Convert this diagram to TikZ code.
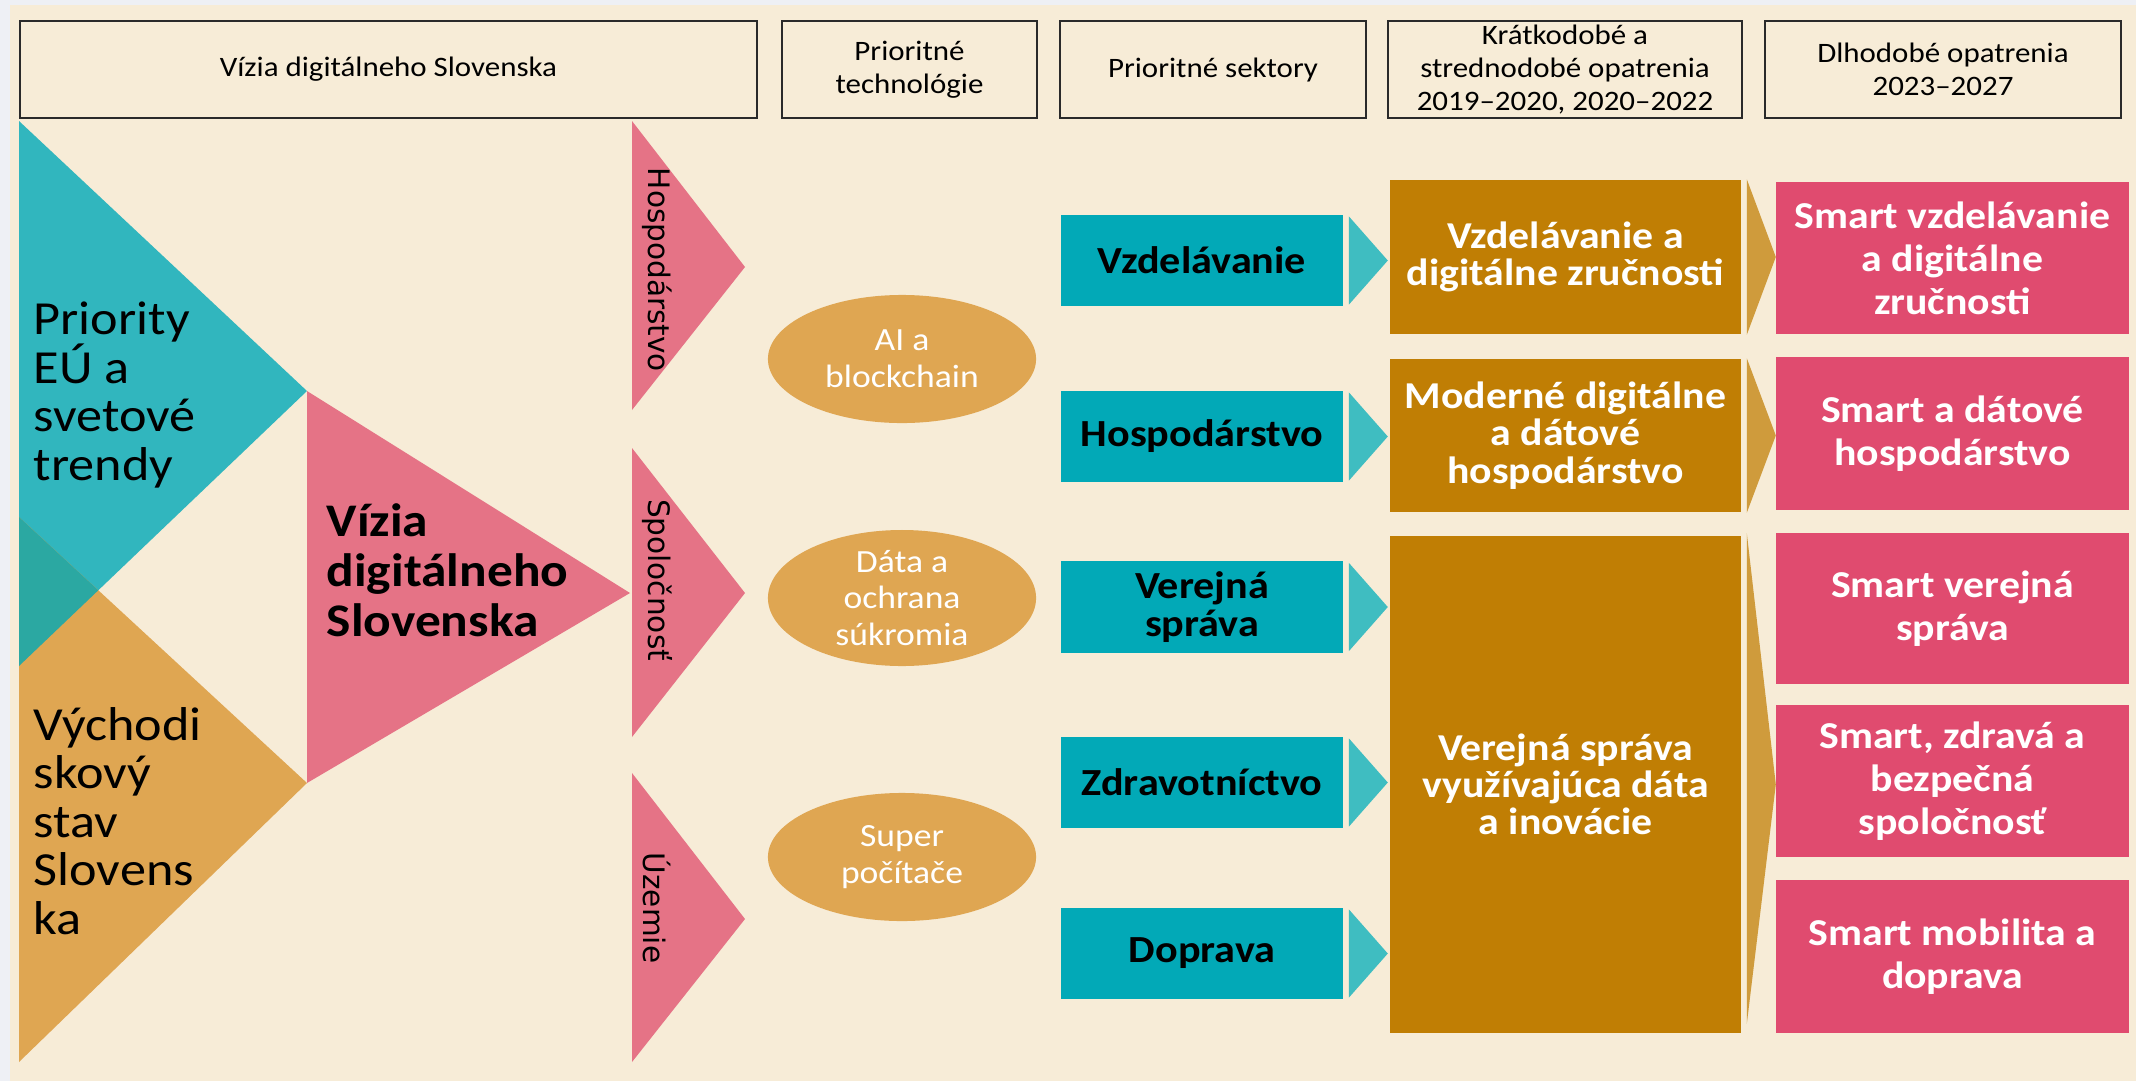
\documentclass[tikz,border=0pt]{standalone}
\usepackage{fontspec}
\setmainfont{Carlito}[FakeStretch=1.1]
\newfontfamily\vertfont{DejaVu Sans}
\usetikzlibrary{calc,shapes.geometric}
\definecolor{pagegray}{HTML}{EEF0F5}
\definecolor{beige}{HTML}{F7ECD7}
\definecolor{headline}{HTML}{2A2A2A}
\definecolor{trendteal}{HTML}{31B6BE}
\definecolor{overlapteal}{HTML}{2BA8A2}
\definecolor{sand}{HTML}{DFA652}
\definecolor{visionpink}{HTML}{E57386}
\definecolor{sectorteal}{HTML}{02A9B7}
\definecolor{sectorarrow}{HTML}{3FBDC1}
\definecolor{gold}{HTML}{C07E04}
\definecolor{goldarrow}{HTML}{CF9B3C}
\definecolor{smartpink}{HTML}{E04B6F}
\tikzset{
  head/.style={draw=headline,line width=0.6pt,fill=beige,inner sep=0pt,align=center,
    minimum height=0.97cm,font=\fontsize{8}{9.25}\selectfont},
  tech/.style={ellipse,fill=sand,text=white,inner sep=0pt,align=center,
    minimum width=2.68cm,minimum height=1.28cm,font=\fontsize{9.2}{10.5}\selectfont},
  sector/.style={fill=sectorteal,inner sep=0pt,align=center,minimum width=2.82cm,
    minimum height=0.91cm,font=\bfseries\fontsize{10.9}{11}\selectfont},
  shortterm/.style={fill=gold,text=white,inner sep=0pt,align=center,minimum width=3.51cm,
    font=\bfseries\fontsize{10.8}{10.6}\selectfont},
  longterm/.style={fill=smartpink,text=white,inner sep=0pt,align=center,minimum width=3.53cm,
    font=\bfseries\fontsize{10.8}{12.2}\selectfont},
  vlabel/.style={rotate=-90,inner sep=0pt,font=\vertfont\fontsize{8.4}{9}\selectfont},
}
\begin{document}
\begin{tikzpicture}[x=0.01cm,y=-0.01cm]
    \useasboundingbox (0,0) rectangle (2136,1081);
    \fill[pagegray] (0,0) rectangle (2136,1081);
    \fill[beige] (10,5) rectangle (2136,1081);
    % column headers
    \node[head,minimum width=7.37cm] (hviz) at (388.5,69.5) {Vízia digitálneho Slovenska};
    \node[head,minimum width=2.55cm] (htech) at (909.5,69.5) {Prioritné\\technológie};
    \node[head,minimum width=3.06cm] (hsec) at (1213,69.5) {Prioritné sektory};
    \node[head,minimum width=3.54cm] (hshort) at (1565,69.5) {Krátkodobé a\\strednodobé opatrenia\\2019–2020, 2020–2022};
    \node[head,minimum width=3.56cm] (hlong) at (1943,69.5) {Dlhodobé opatrenia\\2023–2027};
    % vision triangles
    \fill[trendteal] (19,121)--(307,391)--(19,666)--cycle;
    \fill[sand] (19,517)--(307,783)--(19,1062)--cycle;
    \begin{scope}
        \clip (19,517)--(307,783)--(19,1062)--cycle;
        \fill[overlapteal] (19,121)--(307,391)--(19,666)--cycle;
    \end{scope}
    \fill[visionpink] (307,391)--(630,593)--(307,783)--cycle;
    \node[anchor=west,align=left,inner sep=0pt,font=\fontsize{13.5}{13.8}\selectfont] (trendy) at (33,395) {Priority\\EÚ a\\svetové\\trendy};
    \node[anchor=west,align=left,inner sep=0pt,font=\fontsize{13.5}{13.8}\selectfont] (stav) at (33,821) {Východi\\skový\\stav\\Slovens\\ka};
    \node[anchor=west,align=left,inner sep=0pt,font=\bfseries\fontsize{13.3}{14.2}\selectfont] (vizia) at (326,570) {Vízia\\digitálneho\\Slovenska};
    % pillars
    \fill[visionpink] (632,121)--(745,267)--(632,410)--cycle;
    \fill[visionpink] (632,448)--(745,593)--(632,737)--cycle;
    \fill[visionpink] (632,773)--(745,919)--(632,1062)--cycle;
    \node[vlabel] (phosp) at (657,270) {Hospodárstvo};
    \node[vlabel] (pspol) at (657,580) {Spoločnosť};
    \node[vlabel] (puzem) at (657,908) {Územie};
    % technologies
    \node[tech] (ai) at (902,359) {AI a\\blockchain};
    \node[tech] (data) at (902,598) {Dáta a\\ochrana\\súkromia};
    \node[tech] (super) at (902,857) {Super\\počítače};
    % sectors
    \node[sector] (s1) at (1202,260.5) {Vzdelávanie};
    \node[sector] (s2) at (1202,436.5) {Hospodárstvo};
    \node[sector] (s3) at (1202,607) {Verejná\\správa};
    \node[sector] (s4) at (1202,782.5) {Zdravotníctvo};
    \node[sector] (s5) at (1202,953.5) {Doprava};
    \fill[sectorarrow] ($(s1.north east)+(5,2)$)--($(s1.east)+(44,0)$)--($(s1.south east)+(5,-2)$)--cycle;
    \fill[sectorarrow] ($(s2.north east)+(5,2)$)--($(s2.east)+(44,0)$)--($(s2.south east)+(5,-2)$)--cycle;
    \fill[sectorarrow] ($(s3.north east)+(5,2)$)--($(s3.east)+(44,0)$)--($(s3.south east)+(5,-2)$)--cycle;
    \fill[sectorarrow] ($(s4.north east)+(5,2)$)--($(s4.east)+(44,0)$)--($(s4.south east)+(5,-2)$)--cycle;
    \fill[sectorarrow] ($(s5.north east)+(5,2)$)--($(s5.east)+(44,0)$)--($(s5.south east)+(5,-2)$)--cycle;
    % short and medium term
    \node[shortterm,minimum height=1.54cm] (g1) at (1565.5,257) {Vzdelávanie a\\digitálne zručnosti};
    \node[shortterm,minimum height=1.53cm] (g2) at (1565.5,435.5) {Moderné digitálne\\a dátové\\hospodárstvo};
    \node[shortterm,minimum height=4.97cm] (g3) at (1565.5,784.5) {Verejná správa\\využívajúca dáta\\a inovácie};
    \fill[goldarrow] ($(g1.north east)+(5,0)$)--($(g1.east)+(34,0)$)--($(g1.south east)+(5,0)$)--cycle;
    \fill[goldarrow] ($(g2.north east)+(5,0)$)--($(g2.east)+(34,0)$)--($(g2.south east)+(5,0)$)--cycle;
    \fill[goldarrow] ($(g3.north east)+(5,-2)$)--($(g3.east)+(34,0)$)--($(g3.south east)+(5,-10)$)--cycle;
    % long term
    \node[longterm,minimum height=1.52cm] (p1) at (1952.5,258) {Smart vzdelávanie\\a digitálne\\zručnosti};
    \node[longterm,minimum height=1.53cm] (p2) at (1952.5,433.5) {Smart a dátové\\hospodárstvo};
    \node[longterm,minimum height=1.51cm] (p3) at (1952.5,608.5) {Smart verejná\\správa};
    \node[longterm,minimum height=1.52cm] (p4) at (1952.5,781) {Smart, zdravá a\\bezpečná\\spoločnosť};
    \node[longterm,minimum height=1.53cm] (p5) at (1952.5,956.5) {Smart mobilita a\\doprava};
\end{tikzpicture}
\end{document}
